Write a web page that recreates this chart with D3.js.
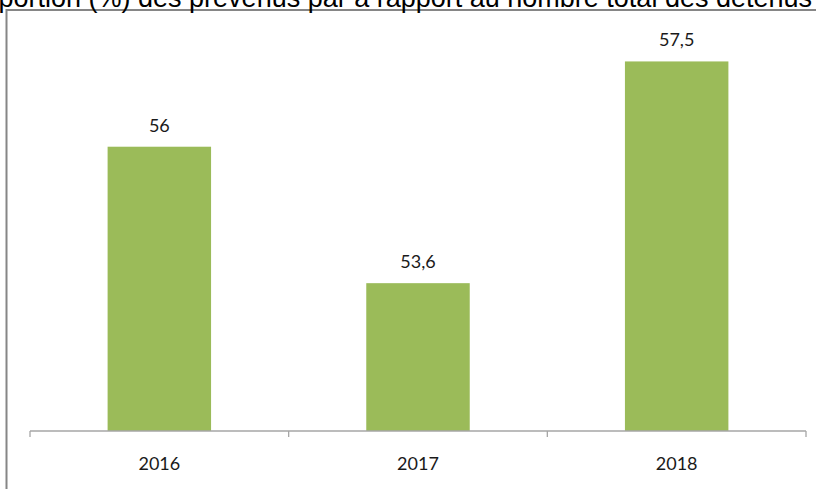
<!DOCTYPE html>
<html>
<head>
<meta charset="utf-8">
<script src="https://cdn.jsdelivr.net/npm/d3@7"></script>
<style>
  html, body { margin: 0; padding: 0; background: #fff; overflow: hidden; }
</style>
</head>
<body>
<div id="chart"></div>
<script>
const title = "Proportion (%) des prévenus par a rapport au nombre total des détenus";
const years = ["2016", "2017", "2018"];
const values = [56, 53.6, 57.5];
const valueLabels = ["56", "53,6", "57,5"];

const width = 816;
const height = 489;
const barColor = "#9bbb59";
const font = "Lato, 'Open Sans', sans-serif";

const svg = d3.select("#chart").append("svg")
    .attr("width", width)
    .attr("height", height);

// chart frame (cut off on the right and bottom)
svg.append("rect")
    .attr("x", 6.5)
    .attr("y", 10)
    .attr("width", width + 10)
    .attr("height", height + 10)
    .attr("fill", "none")
    .attr("stroke", "#868686")
    .attr("stroke-width", 2);

// title, wider than the page so it gets clipped like in the source
svg.append("text")
    .attr("x", 812)
    .attr("y", 7)
    .attr("text-anchor", "end")
    .style("font-family", "'Liberation Sans', Arial, sans-serif")
    .style("font-size", "27px")
    .attr("fill", "#000")
    .text(title);

const x = d3.scaleBand()
    .domain(years)
    .range([30, 806])
    .padding(0);

const y = d3.scaleLinear()
    .domain([51, 58])
    .range([431, 33]);

const barWidth = x.bandwidth() * 0.4;

svg.selectAll("rect.bar")
    .data(values)
  .enter().append("rect")
    .attr("class", "bar")
    .attr("x", (d, i) => x(years[i]) + (x.bandwidth() - barWidth) / 2)
    .attr("y", d => y(d))
    .attr("width", barWidth)
    .attr("height", d => y(51) - y(d))
    .attr("fill", barColor);

svg.selectAll("text.value")
    .data(values)
  .enter().append("text")
    .attr("class", "value")
    .attr("x", (d, i) => x(years[i]) + x.bandwidth() / 2)
    .attr("y", d => y(d) - 15)
    .attr("text-anchor", "middle")
    .style("font-family", font)
    .style("font-size", "18px")
    .attr("fill", "#1a1a1a")
    .text((d, i) => valueLabels[i]);

// x axis: ticks on band edges, labels centred
const axis = svg.append("g").attr("transform", "translate(0,431)");
axis.append("line")
    .attr("x1", 30).attr("x2", 806)
    .attr("stroke", "#a6a6a6").attr("stroke-width", 1.3);

const edges = years.map(d => x(d)).concat([x.range()[1]]);
axis.selectAll("line.tick")
    .data(edges)
  .enter().append("line")
    .attr("class", "tick")
    .attr("x1", d => d).attr("x2", d => d)
    .attr("y1", 0).attr("y2", 6)
    .attr("stroke", "#a6a6a6").attr("stroke-width", 1.3);

axis.selectAll("text")
    .data(years)
  .enter().append("text")
    .attr("x", d => x(d) + x.bandwidth() / 2)
    .attr("y", 39)
    .attr("text-anchor", "middle")
    .style("font-family", font)
    .style("font-size", "18px")
    .attr("fill", "#1a1a1a")
    .text(d => d);
</script>
</body>
</html>
